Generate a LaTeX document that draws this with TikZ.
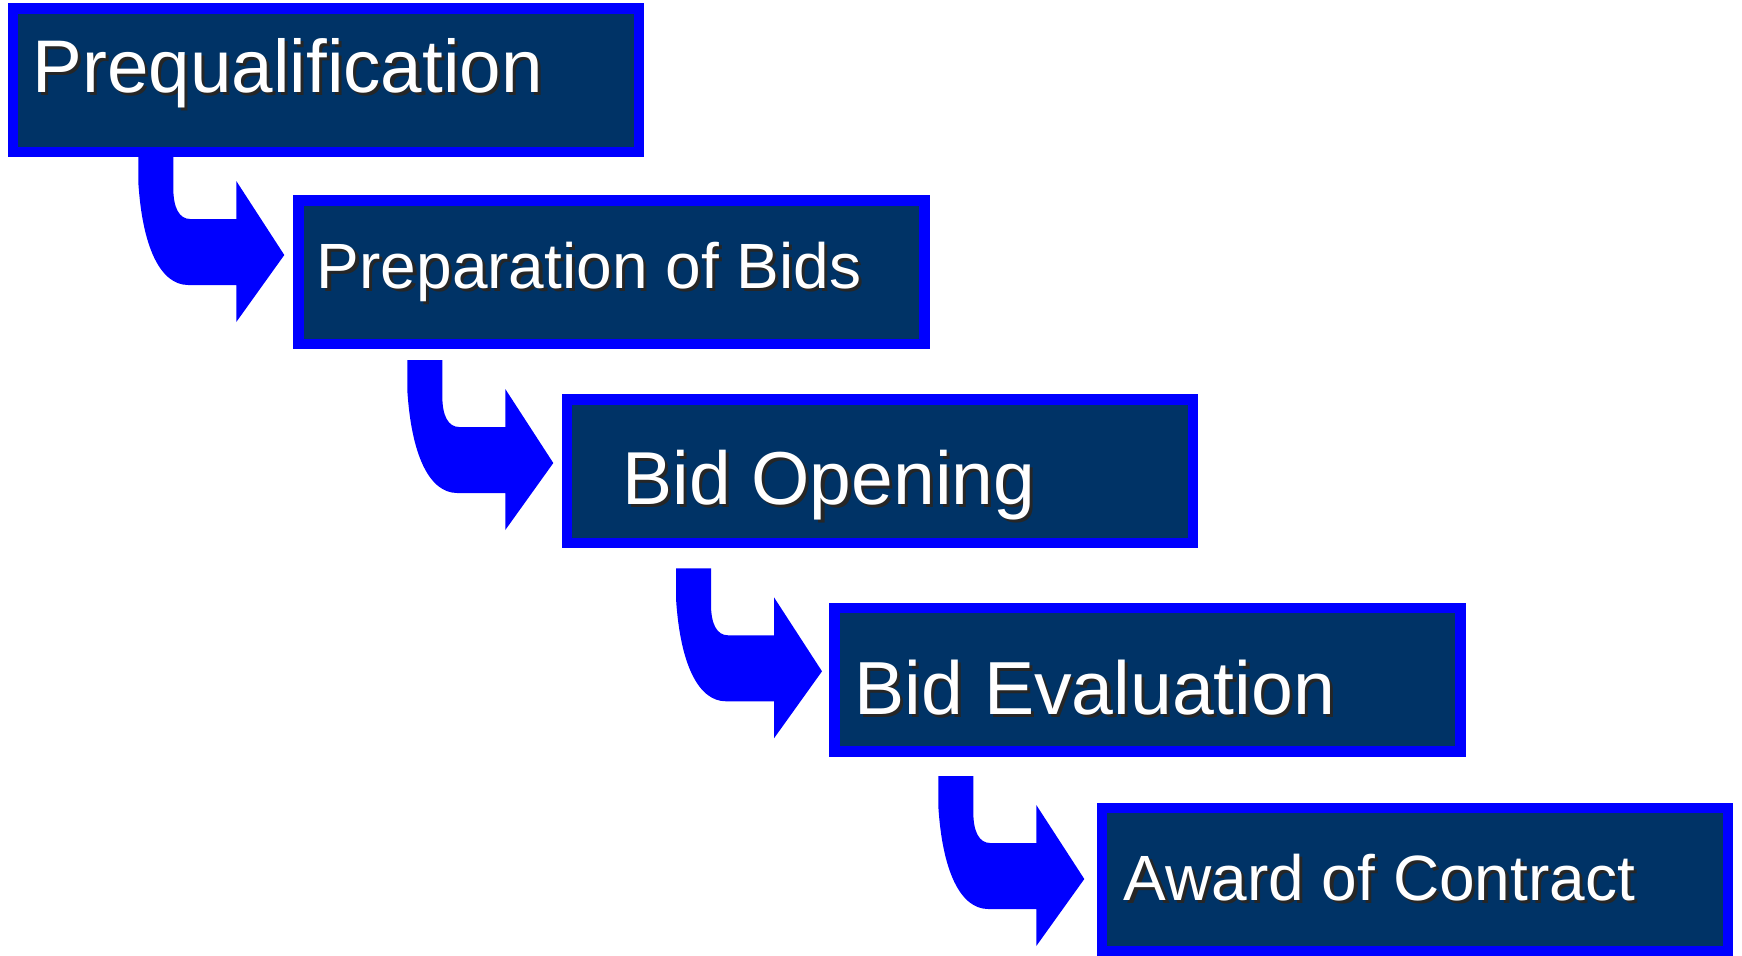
\documentclass[tikz,border=0pt]{standalone}
\usepackage{fontspec}
\setmainfont{Liberation Sans}
\usepackage{tikz}

\definecolor{stageblue}{RGB}{0,0,255}
\definecolor{stagenavy}{RGB}{0,51,102}
\newcommand{\shadowed}[1]{\makebox[0pt][l]{\kern1.6pt\raisebox{-1.6pt}{\textcolor{black!85}{#1}}}#1}

\begin{document}
\begin{tikzpicture}[line cap=round,line join=round,x=0.5pt,y=-0.5pt,
  stagebox/.style={draw=stageblue,fill=stagenavy,line width=5.25pt,line cap=butt,line join=miter,
    minimum width=313pt,minimum height=71.75pt,inner sep=0pt},
  stagetext/.style={text=white,inner sep=0pt,anchor=base west},
  stagearrow/.pic={
    \fill[stageblue] (0,0) -- (35,0) -- (35,36) .. controls (35,56) and (41,67) .. (52,67)
      -- (98,67) -- (98,29) -- (146,103) -- (98,170) -- (98,133) -- (50,133)
      .. controls (22,133) and (4,95) .. (0,30) -- cycle;
  }]
\useasboundingbox (0,0) rectangle (1742,955);

% arrows first, boxes on top
\pic (arrowA) at (138.3,152) {stagearrow};
\pic (arrowB) at (407.3,360) {stagearrow};
\pic (arrowC) at (676,568.3) {stagearrow};
\pic (arrowD) at (938.3,776) {stagearrow};

\node[stagebox] (prequal) at (325.75,80) {};
\node[stagebox] (prep) at (611.5,272) {};
\node[stagebox] (opening) at (880,471) {};
\node[stagebox] (evaluation) at (1147.5,679.5) {};
\node[stagebox] (award) at (1415,879.7) {};

\node[stagetext,font=\fontsize{37.3}{40}\selectfont] (prequal-t) at (32.3,92.7) {\shadowed{Prequalification}};
\node[stagetext,font=\fontsize{32}{36}\selectfont] (prep-t) at (316.5,288.3) {\shadowed{Preparation of Bids}};
\node[stagetext,font=\fontsize{37.5}{40}\selectfont] (opening-t) at (622,504) {\shadowed{Bid Opening}};
\node[stagetext,font=\fontsize{37.6}{40}\selectfont] (evaluation-t) at (854.2,714) {\shadowed{Bid Evaluation}};
\node[stagetext,font=\fontsize{32}{36}\selectfont] (award-t) at (1123.5,900) {\shadowed{Award of Contract}};

%\draw[red] (prequal.south) -- (prep.north);
\end{tikzpicture}
\end{document}
